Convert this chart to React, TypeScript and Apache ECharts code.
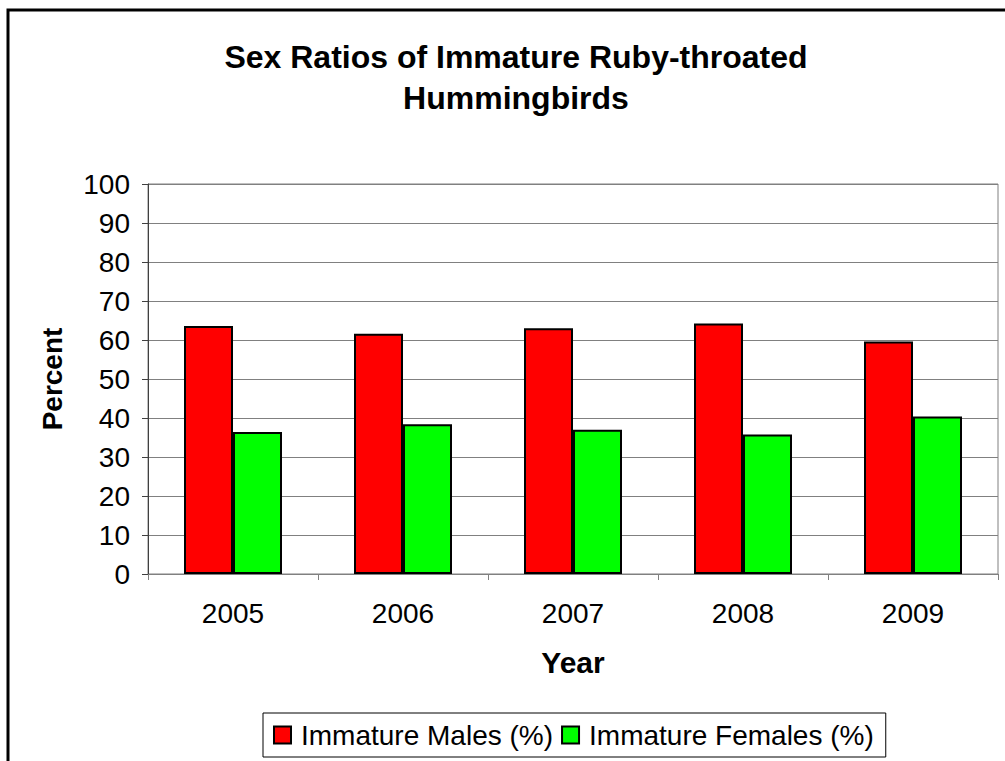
import React, { useEffect, useRef } from "react";
import * as echarts from "echarts";

const years = ["2005", "2006", "2007", "2008", "2009"];
const males = [63.6, 61.6, 63.0, 64.2, 59.6];
const females = [36.4, 38.4, 37.0, 35.8, 40.4];
const seriesNames = ["Immature Males (%)", "Immature Females (%)"];
const titleText = "Sex Ratios of Immature Ruby-throated\nHummingbirds";

export default function App() {
  const ref = useRef<HTMLDivElement>(null);
  useEffect(() => {
    if (!ref.current) return;
    const chart = echarts.init(ref.current, null, { renderer: "svg" });
    const font = "Arial, 'Liberation Sans', sans-serif";
    chart.setOption({
      animation: false,
      backgroundColor: "#fff",
      textStyle: { fontFamily: font },
      title: {
        text: titleText,
        left: 511,
        top: 31,
        textAlign: "center",
        textStyle: { fontSize: 32, fontWeight: "bold", color: "#000", lineHeight: 41, fontFamily: font },
      },
      graphic: [
        {
          type: "rect",
          shape: { x: 8, y: 10, width: 1100, height: 900 },
          style: { fill: "none", stroke: "#000", lineWidth: 3 },
          silent: true,
        },
      ],
      legend: {
        data: seriesNames,
        left: 263,
        top: 713,
        orient: "horizontal",
        borderColor: "#000",
        borderWidth: 1,
        padding: [8, 12, 8, 10],
        itemGap: 8,
        itemWidth: 17,
        itemHeight: 17,
        icon: "rect",
        textStyle: { fontSize: 28, color: "#000", fontFamily: font, padding: [0, 0, 0, 5] },
      },
      grid: {
        left: 148,
        right: 7,
        top: 184,
        bottom: 187,
        show: true,
        borderColor: "#808080",
        borderWidth: 1,
        containLabel: false,
      },
      xAxis: {
        type: "category",
        data: years,
        name: "Year",
        nameLocation: "middle",
        nameGap: 73,
        nameTextStyle: { fontSize: 30, fontWeight: "bold", color: "#000", fontFamily: font },
        axisLine: { lineStyle: { color: "#808080", width: 1 } },
        axisTick: { show: true, alignWithLabel: false, length: 6, lineStyle: { color: "#808080" } },
        axisLabel: { fontSize: 28, color: "#000", margin: 25, fontFamily: font },
      },
      yAxis: {
        type: "value",
        min: 0,
        max: 100,
        interval: 10,
        name: "Percent",
        nameLocation: "middle",
        nameGap: 82,
        nameRotate: 90,
        nameTextStyle: { fontSize: 28, fontWeight: "bold", color: "#000", fontFamily: font },
        axisLine: { show: true, lineStyle: { color: "#404040", width: 1 } },
        axisTick: { show: true, length: 6, lineStyle: { color: "#404040" } },
        axisLabel: { fontSize: 28, color: "#000", margin: 18, fontFamily: font },
        splitLine: { show: true, lineStyle: { color: "#808080", width: 1 } },
      },
      series: [
        {
          name: seriesNames[0],
          type: "bar",
          data: males,
          barWidth: 49,
          barGap: "0%",
          itemStyle: { color: "#ff0000", borderColor: "#000", borderWidth: 2 },
        },
        {
          name: seriesNames[1],
          type: "bar",
          data: females,
          barWidth: 49,
          barGap: "0%",
          itemStyle: { color: "#00ff00", borderColor: "#000", borderWidth: 2 },
        },
      ],
    });
    return () => chart.dispose();
  }, []);
  return (
    <div
      ref={ref}
      style={{ position: "absolute", left: 0, top: 0, width: 1005, height: 761 }}
    />
  );
}
